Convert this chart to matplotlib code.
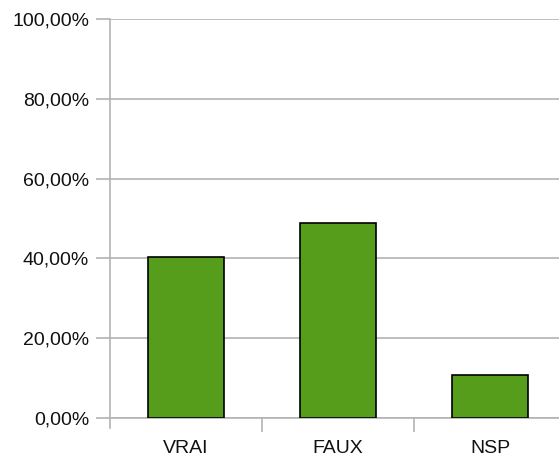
import matplotlib.pyplot as plt
from matplotlib.ticker import FuncFormatter

# données du graphique
categories = ['VRAI', 'FAUX', 'NSP']
valeurs = [40.3, 48.9, 10.8]
ticks_y = [0, 20, 40, 60, 80, 100]

plt.rcParams['font.family'] = ['Liberation Sans', 'DejaVu Sans']

W, H = 559, 461
fig = plt.figure(figsize=(W / 100, H / 100), dpi=100)
ax = fig.add_axes([110 / W, 43 / H, 456 / W, 399 / H])

gris = '#b3b3b3'
ax.bar(range(len(categories)), valeurs, width=0.5, color='#579d1c',
       edgecolor='black', linewidth=1.2, zorder=3)

ax.set_xlim(-0.5, len(categories) - 0.5)
ax.set_ylim(0, 100)
ax.set_yticks(ticks_y)
ax.yaxis.set_major_formatter(FuncFormatter(lambda v, p: f'{v:.2f}%'.replace('.', ',')))
ax.yaxis.grid(True, color=gris, linewidth=1.2, zorder=0)

# graduations x entre les catégories
ax.set_xticks([0.5, 1.5], minor=False)
ax.set_xticklabels([])
ax.set_xticks(range(len(categories)), minor=True)
ax.set_xticklabels(categories, minor=True)
ax.tick_params(axis='x', which='minor', length=0, pad=16, labelsize=14, labelcolor='#111111')
ax.tick_params(axis='x', which='major', length=10, width=1.2, color=gris)
ax.tick_params(axis='y', length=10, width=1.2, color=gris, pad=5, labelsize=14, labelcolor='#111111')

for s in ['top', 'right']:
    ax.spines[s].set_visible(False)
for s in ['left', 'bottom']:
    ax.spines[s].set_color(gris)
    ax.spines[s].set_linewidth(1.2)
ax.spines['left'].set_bounds(-2.5, 100)
ax.spines['left'].set_clip_on(False)

fig.savefig('out.png', dpi=100)
